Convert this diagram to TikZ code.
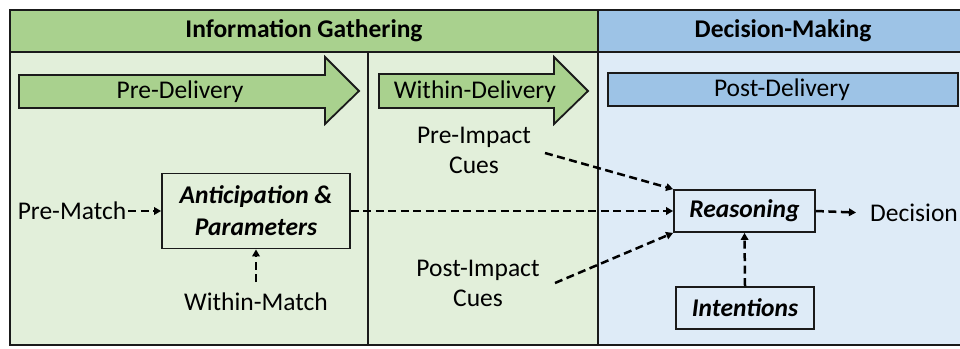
\documentclass[tikz,border=0pt]{standalone}
\usepackage{fontspec}
\setmainfont{Carlito}
\usetikzlibrary{arrows.meta}
\definecolor{hdrgreen}{HTML}{A9D18E}
\definecolor{bggreen}{HTML}{E2EFDA}
\definecolor{hdrblue}{HTML}{9DC3E6}
\definecolor{bgblue}{HTML}{DEEBF7}
\definecolor{inkline}{HTML}{1A1A1A}

\begin{document}
\begin{tikzpicture}[x=1pt,y=-1pt,
  lbl/.style={inner sep=2pt, font=\fontsize{25.5}{30}\selectfont, text=black},
  hdr/.style={inner sep=0pt, font=\fontsize{25.5}{28}\selectfont\bfseries},
  box/.style={draw=inkline, line width=1.8pt, fill=bggreen, inner sep=2pt,
    align=center, font=\fontsize{25.5}{32}\selectfont\bfseries\itshape},
  bluebox/.style={box, fill=bgblue},
  phase/.style={draw=inkline, line width=1.8pt},
  dashar/.style={draw=black, line width=2.5pt, dash pattern=on 8pt off 4.5pt,
    -{Triangle[length=7pt,width=7.5pt]}}
]
\useasboundingbox (0,0) rectangle (960,348);

% panel backgrounds and headers
\fill[bggreen] (10,52) rectangle (598,345);
\fill[bgblue] (598,52) rectangle (970,345);
\fill[hdrgreen] (10,10) rectangle (598,52);
\fill[hdrblue] (598,10) rectangle (970,52);
\draw[inkline, line width=2pt] (10,10) rectangle (970,345);
\draw[inkline, line width=2pt] (10,52) -- (970,52);
\draw[inkline, line width=2pt] (598,10) -- (598,345);
\draw[inkline, line width=1.8pt] (368,52) -- (368,345);

\node[hdr] (hinfo) at (304,31) {Information Gathering};
\node[hdr] (hdec) at (783,31) {Decision-Making};

% phase arrows
\draw[phase, fill=hdrgreen] (19,75) -- (325,75) -- (325,57) -- (359,91)
  -- (325,124) -- (325,108) -- (19,108) -- cycle;
\node[lbl] (pre) at (180,92) {Pre-Delivery};
\draw[phase, fill=hdrgreen] (379,74) -- (554,74) -- (554,57) -- (588,91)
  -- (554,124) -- (554,108) -- (379,108) -- cycle;
\node[lbl] (within) at (475,92) {Within-Delivery};
\draw[phase, fill=hdrblue] (608,73) rectangle (958,106);
\node[lbl] (post) at (782,90) {Post-Delivery};

% model nodes
\node[lbl] (prematch) at (72,211) {Pre-Match};
\node[box, minimum width=188pt, minimum height=75pt] (antic) at (256,211)
  {Anticipation \&\\Parameters};
\node[lbl] (withinmatch) at (256,302) {Within-Match};
\node[lbl, align=center] (preimp) at (474,150) {Pre-Impact\\Cues};
\node[lbl, align=center] (postimp) at (478,283) {Post-Impact\\Cues};
\node[bluebox, minimum width=141pt, minimum height=42pt] (reason) at (744.5,211) {Reasoning};
\node[bluebox, minimum width=138pt, minimum height=42pt] (intent) at (745,308) {Intentions};
\node[lbl, anchor=west] (decision) at (868,213) {Decision};

\coordinate (pistart) at (545,153);
\coordinate (postart) at (555,283);
\coordinate (wmstart) at (256,282);

% connectors
\draw[dashar] (prematch.east) -- (antic.west);
\draw[dashar] (wmstart) -- (antic.south);
\draw[dashar] (antic.east) -- (reason.west);
\draw[dashar] (pistart) -- (reason.north west);
\draw[dashar] (postart) -- (reason.south west);
\draw[dashar] (intent.north) -- (reason.south);
\draw[dashar, shorten >=12pt] (reason.east) -- (decision.west);
\end{tikzpicture}
\end{document}
